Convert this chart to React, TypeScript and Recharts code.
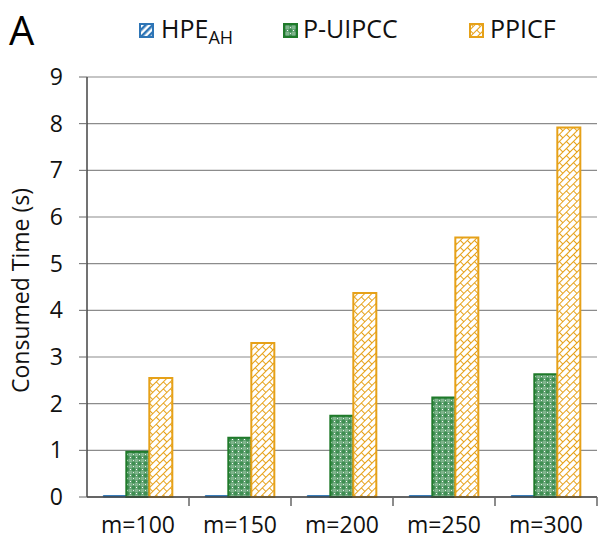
import React from "react"
import { Bar, BarChart, CartesianGrid, XAxis, YAxis } from "recharts"

const categories = ["m=100", "m=150", "m=200", "m=250", "m=300"]
const hpeValues = [0.03, 0.03, 0.03, 0.03, 0.03]
const puipccValues = [0.97, 1.27, 1.74, 2.13, 2.63]
const ppicfValues = [2.55, 3.3, 4.37, 5.56, 7.92]
const yTicks = [0, 1, 2, 3, 4, 5, 6, 7, 8, 9]

const data = categories.map((name, i) => ({
  name,
  hpe: hpeValues[i],
  puipcc: puipccValues[i],
  ppicf: ppicfValues[i],
}))

const FONT = "'Open Sans', sans-serif"
const BLUE = "#2e75b6"
const GREEN = "#1f7a2a"
const ORANGE = "#e6a118"

function XTick(props: any) {
  const { x, y, payload, width } = props
  const half = (width || 510) / categories.length / 2
  return (
    <g>
      <line x1={x + half} y1={y - 8} x2={x + half} y2={y + 1} stroke="#666" strokeWidth={1.5} />
      <text x={x} y={y + 28} textAnchor="middle" fontSize={23} fill="#111" fontFamily={FONT}>
        {payload.value}
      </text>
    </g>
  )
}

function Swatch({ id, stroke }: { id: string; stroke: string }) {
  return (
    <svg width={15} height={15} style={{ display: "block" }}>
      <rect x={1} y={1} width={13} height={13} fill={`url(#${id})`} stroke={stroke} strokeWidth={2} />
    </svg>
  )
}

function Patterns() {
  return (
    <defs>
      <pattern id="pBlue" width="5" height="5" patternUnits="userSpaceOnUse" patternTransform="rotate(45)">
        <rect width="5" height="5" fill="#ffffff" />
        <rect width="2.5" height="5" fill={BLUE} />
      </pattern>
      <pattern id="pGreen" width="6" height="6" patternUnits="userSpaceOnUse">
        <rect width="6" height="6" fill="#5fa070" />
        <rect x="0" y="0" width="3" height="3" fill="#3f8f52" />
        <rect x="3" y="3" width="3" height="3" fill="#7fb58c" />
        <rect x="4" y="1" width="1" height="1" fill="#ffffff" />
        <rect x="1" y="4" width="1" height="1" fill="#e8f3ea" />
      </pattern>
      <pattern id="pOrange" width="10" height="10" patternUnits="userSpaceOnUse" patternTransform="rotate(-45)">
        <rect width="10" height="10" fill="#ffffff" />
        <line x1="0" y1="0.5" x2="10" y2="0.5" stroke={ORANGE} strokeWidth="1" />
        <line x1="0" y1="5.5" x2="10" y2="5.5" stroke={ORANGE} strokeWidth="1" />
        <line x1="0.5" y1="0" x2="0.5" y2="5" stroke={ORANGE} strokeWidth="1" />
        <line x1="5.5" y1="5" x2="5.5" y2="10" stroke={ORANGE} strokeWidth="1" />
      </pattern>
    </defs>
  )
}

export default function App() {
  return (
    <div style={{ position: "fixed", left: 0, top: 0, width: 598, height: 546, background: "#fff", fontFamily: FONT }}>
      <svg width={0} height={0} style={{ position: "absolute" }}>
        <Patterns />
      </svg>
      <div style={{ position: "absolute", left: 9, top: 5, fontSize: 40, color: "#000", lineHeight: "50px" }}>A</div>
      <div style={{ position: "absolute", left: 139, top: 23 }}>
        <Swatch id="pBlue" stroke={BLUE} />
      </div>
      <div style={{ position: "absolute", left: 161, top: 11, fontSize: 25, color: "#111", lineHeight: "34px" }}>
        HPE<sub style={{ fontSize: 18, verticalAlign: -6, lineHeight: 0 }}>AH</sub>
      </div>
      <div style={{ position: "absolute", left: 283, top: 23 }}>
        <Swatch id="pGreen" stroke={GREEN} />
      </div>
      <div style={{ position: "absolute", left: 303, top: 11, fontSize: 25, color: "#111", lineHeight: "34px" }}>P-UIPCC</div>
      <div style={{ position: "absolute", left: 469, top: 23 }}>
        <Swatch id="pOrange" stroke={ORANGE} />
      </div>
      <div style={{ position: "absolute", left: 490, top: 11, fontSize: 25, color: "#111", lineHeight: "34px" }}>PPICF</div>

      <BarChart
        width={598}
        height={546}
        data={data}
        margin={{ top: 77, right: 1, left: 0, bottom: 0 }}
        barCategoryGap="16%"
        barGap={0}
        style={{ position: "absolute", left: 0, top: 0 }}
      >
        <CartesianGrid vertical={false} stroke="#8c8c8c" strokeWidth={1.2} />
        <XAxis
          dataKey="name"
          height={49}
          axisLine={{ stroke: "#444", strokeWidth: 1.5 }}
          tickLine={false}
          tick={<XTick />}
          interval={0}
        />
        <YAxis
          width={87}
          domain={[0, 9]}
          ticks={yTicks}
          interval={0}
          axisLine={{ stroke: "#444", strokeWidth: 1.5 }}
          tickLine={{ stroke: "#666" }}
          tickSize={8}
          tickMargin={16}
          tick={{ fontSize: 23, fill: "#111", fontFamily: FONT }}
          label={{
            value: "Consumed Time (s)",
            angle: -90,
            position: "insideLeft",
            dx: 16,
            dy: 106,
            style: { fontSize: 23, fill: "#111", fontFamily: FONT },
          }}
        />
        <Bar dataKey="hpe" fill={BLUE} stroke={BLUE} isAnimationActive={false} />
        <Bar dataKey="puipcc" fill="url(#pGreen)" stroke={GREEN} strokeWidth={2} isAnimationActive={false} />
        <Bar dataKey="ppicf" fill="url(#pOrange)" stroke={ORANGE} strokeWidth={2} isAnimationActive={false} />
      </BarChart>
    </div>
  )
}
